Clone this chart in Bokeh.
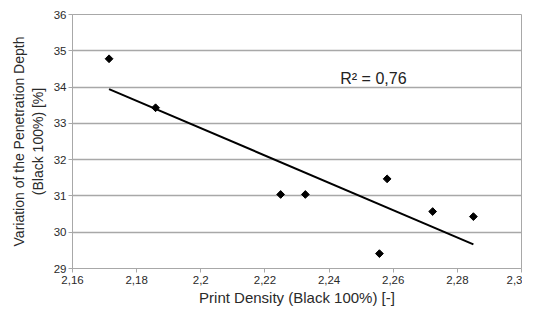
import numpy as np
from bokeh.plotting import figure
from bokeh.models import Range1d, FixedTicker, CustomJSTickFormatter, Label
from bokeh.embed import file_html
from bokeh.resources import INLINE

print_density = [2.1714, 2.1859, 2.2249, 2.2326, 2.2581, 2.2557, 2.2723, 2.2850]
penetration_var = [34.78, 33.43, 31.04, 31.04, 31.47, 29.41, 30.57, 30.43]
x_ticks = [2.16, 2.18, 2.2, 2.22, 2.24, 2.26, 2.28, 2.3]
y_ticks = [29, 30, 31, 32, 33, 34, 35, 36]
r2_text = "R\u00b2 = 0,76"

FONT = "Liberation Sans"
TXT = "#2a2a2a"
GRID = "#a8a8a8"

p = figure(width=522, height=308, output_backend="svg", toolbar_location=None,
           x_range=Range1d(2.16, 2.3), y_range=Range1d(29, 36),
           min_border_left=72, min_border_right=1, min_border_top=14, min_border_bottom=38)

p.background_fill_color = "white"
p.border_fill_color = "white"
p.outline_line_color = GRID
p.outline_line_width = 1

p.xgrid.grid_line_color = None
p.ygrid.grid_line_color = GRID
p.ygrid.grid_line_width = 1.5

p.xaxis.ticker = FixedTicker(ticks=x_ticks)
p.yaxis.ticker = FixedTicker(ticks=y_ticks)
p.xaxis.formatter = CustomJSTickFormatter(code="return String(Math.round(tick*100)/100).replace('.', ',');")

for ax in (p.xaxis[0], p.yaxis[0]):
    ax.axis_line_color = GRID
    ax.major_tick_line_color = GRID
    ax.minor_tick_line_color = None
    ax.major_tick_in = 0
    ax.major_tick_out = 4
    ax.major_label_text_font = FONT
    ax.major_label_text_font_size = "11.5px"
    ax.major_label_text_color = TXT
    ax.axis_label_text_font = FONT
    ax.axis_label_text_font_style = "normal"
    ax.axis_label_text_color = TXT

p.xaxis.axis_label = "Print Density (Black 100%) [-]"
p.yaxis.axis_label = "Variation of the Penetration Depth\n(Black 100%) [%]"
p.xaxis.axis_label_text_font_size = "15px"
p.yaxis.axis_label_text_font_size = "14px"
p.xaxis.major_label_standoff = 3
p.xaxis.axis_label_standoff = 2
p.yaxis.major_label_standoff = 2
p.yaxis.axis_label_standoff = 5

# linear trend line (least squares)
coef = np.polyfit(print_density, penetration_var, 1)
xs = [min(print_density), max(print_density)]
ys = [coef[0] * x + coef[1] for x in xs]
p.line(xs, ys, line_color="black", line_width=2)

p.scatter(print_density, penetration_var, marker="square", angle=np.pi / 4, size=5.5,
          fill_color="black", line_color="black")

p.add_layout(Label(x=2.2435, y=34.25, text=r2_text, text_font=FONT,
                   text_font_size="16px", text_color="#222222",
                   text_align="left", text_baseline="middle"))

open("out.html", "w").write(file_html(p, INLINE))
